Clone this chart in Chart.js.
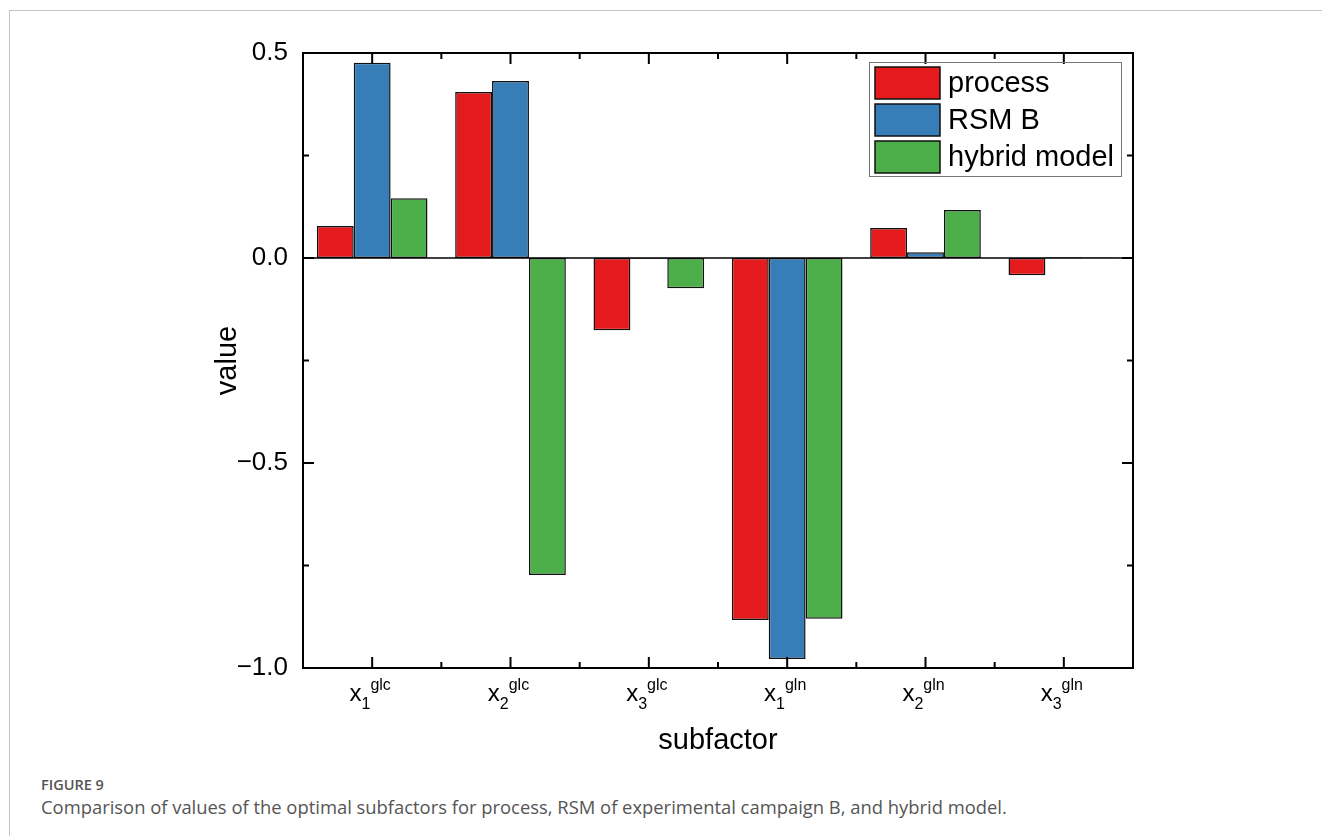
<!DOCTYPE html>
<html>
<head>
<meta charset="utf-8">
<script src="https://cdn.jsdelivr.net/npm/chart.js@4.4.1/dist/chart.umd.min.js"></script>
<style>
  body { margin: 0; background: #fff; }
  #wrap { position: relative; width: 1322px; height: 836px; overflow: hidden; background: #fff; }
  .card { position: absolute; left: 9px; top: 10px; right: -2px; bottom: -2px;
          border-left: 1px solid #c4c4c4; border-top: 1px solid #c4c4c4; }
  #chart { position: absolute; left: 0; top: 0; }
  .fig { position: absolute; left: 41px; top: 776px; line-height: 18px; font-family: "Open Sans", sans-serif;
         font-weight: 600; font-size: 14.5px; color: #555; }
  .cap { position: absolute; left: 41px; top: 796px; line-height: 22px; font-family: "Open Sans", sans-serif;
         font-size: 18.4px; color: #555; white-space: nowrap; }
</style>
</head>
<body>
<div id="wrap">
  <div class="card"></div>
  <canvas id="chart" width="1322" height="770"></canvas>
  <div class="fig">FIGURE 9</div>
  <div class="cap">Comparison of values of the optimal subfactors for process, RSM of experimental campaign B, and hybrid model.</div>
</div>
<script>
// subfactor labels: base, subscript, superscript
const categories = ["x1glc", "x2glc", "x3glc", "x1gln", "x2gln", "x3gln"];
const labelSub = ["1", "2", "3", "1", "2", "3"];
const labelSup = ["glc", "glc", "glc", "gln", "gln", "gln"];

const processValues = [0.078, 0.405, -0.176, -0.883, 0.073, -0.042];
const rsmValues = [0.476, 0.432, -0.002, -0.978, 0.014, 0.002];
const hybridValues = [0.146, -0.773, -0.074, -0.880, 0.117, 0.001];

const yTicks = [-1.0, -0.5, 0.0, 0.5];

const FONT = '"Liberation Sans", Arial, sans-serif';

function line(ctx, x1, y1, x2, y2) {
  ctx.beginPath();
  ctx.moveTo(x1, y1);
  ctx.lineTo(x2, y2);
  ctx.stroke();
}

const framePlugin = {
  id: "frame",
  afterDraw(chart) {
    const { ctx, chartArea: a, scales: { x, y } } = chart;
    ctx.save();
    ctx.strokeStyle = "#000";

    // zero line
    ctx.lineWidth = 1.5;
    const y0 = y.getPixelForValue(0);
    line(ctx, a.left, y0, a.right, y0);

    // frame
    ctx.lineWidth = 2;
    ctx.strokeRect(a.left, a.top, a.right - a.left, a.bottom - a.top);

    // y ticks, inward on both sides
    y.ticks.forEach(t => {
      const py = y.getPixelForValue(t.value);
      const len = yTicks.some(v => Math.abs(v - t.value) < 1e-6) ? 11 : 6;
      line(ctx, a.left, py, a.left + len, py);
      line(ctx, a.right, py, a.right - len, py);
    });

    // x ticks, inward on bottom and top
    categories.forEach((c, i) => {
      const px = x.getPixelForValue(i);
      line(ctx, px, a.bottom, px, a.bottom - 11);
      line(ctx, px, a.top, px, a.top + 11);
      if (i > 0) {
        const mx = (x.getPixelForValue(i - 1) + px) / 2;
        line(ctx, mx, a.bottom, mx, a.bottom - 6);
        line(ctx, mx, a.top, mx, a.top + 6);
      }
    });

    // x labels with subscript and superscript
    ctx.fillStyle = "#000";
    ctx.textBaseline = "alphabetic";
    ctx.textAlign = "left";
    categories.forEach((c, i) => {
      const px = x.getPixelForValue(i);
      ctx.font = "24px " + FONT;
      const wBase = ctx.measureText("x").width;
      ctx.font = "16px " + FONT;
      const wSub = ctx.measureText(labelSub[i]).width;
      const wSup = ctx.measureText(labelSup[i]).width;
      const total = wBase + wSub + wSup;
      let sx = px - total / 2 - 2;
      const base = a.bottom + 33;
      ctx.font = "24px " + FONT;
      ctx.fillText("x", sx, base);
      ctx.font = "16px " + FONT;
      ctx.fillText(labelSub[i], sx + wBase, base + 8);
      ctx.fillText(labelSup[i], sx + wBase + wSub, base - 11);
    });

    // legend box in the upper right
    const ds = chart.data.datasets;
    const bx = a.right - 264, by = a.top + 9, bw = 252, bh = 114;
    ctx.strokeStyle = "#777";
    ctx.lineWidth = 1;
    ctx.strokeRect(bx + 0.5, by + 0.5, bw, bh);
    ctx.font = "29px " + FONT;
    ctx.textBaseline = "middle";
    ds.forEach((d, i) => {
      const top = by + 5 + i * 37;
      ctx.fillStyle = d.backgroundColor;
      ctx.fillRect(bx + 6, top, 65, 32);
      ctx.strokeStyle = "#111";
      ctx.lineWidth = 1.5;
      ctx.strokeRect(bx + 6, top, 65, 32);
      ctx.fillStyle = "#000";
      ctx.fillText(d.label, bx + 79, top + 17);
    });
    ctx.restore();
  }
};

new Chart(document.getElementById("chart"), {
  type: "bar",
  data: {
    labels: categories,
    datasets: [
      { label: "process", data: processValues, backgroundColor: "#E41A1C" },
      { label: "RSM B", data: rsmValues, backgroundColor: "#377EB8" },
      { label: "hybrid model", data: hybridValues, backgroundColor: "#4DAF4A" }
    ]
  },
  options: {
    responsive: false,
    animation: false,
    layout: { padding: { left: 211, right: 189, top: 53, bottom: 0 } },
    datasets: {
      bar: {
        categoryPercentage: 0.8,
        barPercentage: 1.0,
        borderColor: "#111",
        borderWidth: 1.5,
        borderSkipped: false
      }
    },
    plugins: {
      legend: { display: false },
      tooltip: { enabled: false }
    },
    scales: {
      x: {
        grid: { display: false, drawTicks: false },
        border: { display: false },
        ticks: { display: false },
        afterFit: s => { s.height = 102; },
        title: {
          display: true,
          text: "subfactor",
          color: "#000",
          font: { family: FONT, size: 29 },
          padding: { top: 0, bottom: 12 }
        }
      },
      y: {
        min: -1.0,
        max: 0.5,
        grid: { display: false, drawTicks: false },
        border: { display: false },
        afterFit: s => { s.width = 92; },
        ticks: {
          stepSize: 0.25,
          color: "#000",
          padding: 15,
          font: { family: FONT, size: 26 },
          callback: v => yTicks.some(t => Math.abs(t - v) < 1e-6)
            ? (v < 0 ? "\u2212" + Math.abs(v).toFixed(1) : v.toFixed(1)) : ""
        },
        title: {
          display: true,
          text: "value",
          color: "#000",
          font: { family: FONT, size: 29 },
          padding: { top: 0, bottom: 0 }
        }
      }
    }
  },
  plugins: [framePlugin]
});
</script>
</body>
</html>
